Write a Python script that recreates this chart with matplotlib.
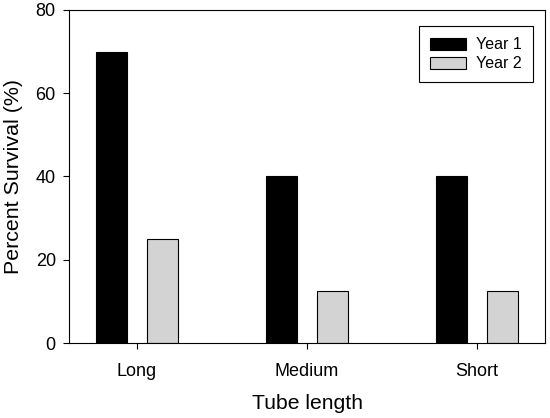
import matplotlib
matplotlib.use("Agg")
import matplotlib.pyplot as plt
import numpy as np

plt.rcParams['font.family'] = ['Liberation Sans', 'DejaVu Sans']

categories = ["Long", "Medium", "Short"]
year1 = [70, 40, 40]
year2 = [25, 12.5, 12.5]
yticks = [0, 20, 40, 60, 80]

fig = plt.figure(figsize=(5.5, 4.18), dpi=100)
ax = fig.add_axes([69/550, 1-343/418, (545-69)/550, (343-10)/418])

x = np.arange(len(categories))
w = 0.18
ax.bar(x - 0.15, year1, w, color='black', edgecolor='black', linewidth=0.8, label='Year 1')
ax.bar(x + 0.15, year2, w, color='#d3d3d3', edgecolor='black', linewidth=0.8, label='Year 2')

ax.set_xlim(-0.4, 2.4)
ax.set_ylim(0, 80)
ax.set_yticks(yticks)
ax.set_xticks(x)
ax.set_xticklabels(categories)
ax.tick_params(axis='both', direction='out', labelsize=13, length=4.5, width=0.8)
ax.tick_params(axis='x', pad=10)
ax.tick_params(axis='y', pad=5)
for s in ax.spines.values():
    s.set_linewidth(0.8)

ax.set_xlabel('Tube length', fontsize=15.2, labelpad=10)
ax.set_ylabel('Percent Survival (%)', fontsize=15.4, labelpad=9)

leg = ax.legend(loc='upper right', bbox_to_anchor=(533/550, 1-26/418), bbox_transform=fig.transFigure,
                fontsize=11.5, fancybox=False, framealpha=1, edgecolor='black',
                handlelength=2.3, handleheight=0.8, borderpad=0.7, labelspacing=0.25,
                handletextpad=0.6, borderaxespad=0)
leg.get_frame().set_linewidth(0.8)

fig.savefig('out.png', dpi=100)
